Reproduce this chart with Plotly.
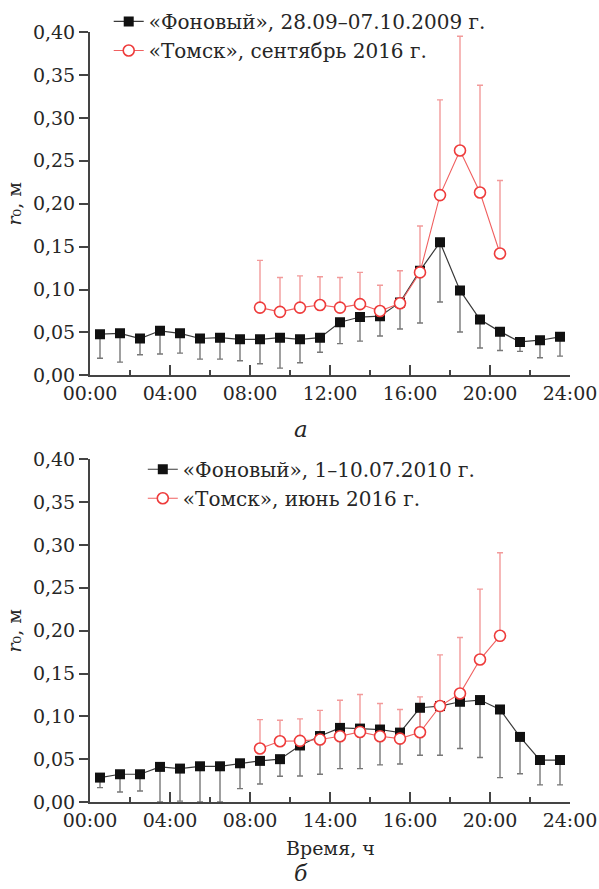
import plotly.graph_objects as go

# ---------------- data ----------------
hours = [h + 0.5 for h in range(24)]
red_hours = [h + 0.5 for h in range(8, 21)]

tick_vals = [0, 4, 8, 12, 16, 20, 24]
tick_text_a = ["00:00", "04:00", "08:00", "12:00", "16:00", "20:00", "24:00"]
tick_text_b = ["00:00", "04:00", "08:00", "14:00", "16:00", "20:00", "24:00"]

name_a_black = "«Фоновый», 28.09–07.10.2009 г."
name_a_red = "«Томск», сентябрь 2016 г."
name_b_black = "«Фоновый», 1–10.07.2010 г."
name_b_red = "«Томск», июнь 2016 г."

# panel a: «Фоновый» (black squares) mean and lower bound of error bar
a_black = [0.048, 0.049, 0.043, 0.052, 0.049, 0.043, 0.044, 0.042, 0.042, 0.044, 0.042, 0.044,
           0.062, 0.068, 0.069, 0.085, 0.122, 0.155, 0.099, 0.065, 0.051, 0.039, 0.041, 0.045]
a_black_low = [0.020, 0.0155, 0.024, 0.025, 0.026, 0.019, 0.019, 0.017, 0.0136, 0.0085, 0.0147, 0.027,
               0.037, 0.040, 0.046, 0.054, 0.061, 0.0855, 0.0505, 0.032, 0.029, 0.028, 0.0206, 0.0225]
# panel a: «Томск» (red circles) mean and upper bound of error bar
a_red = [0.079, 0.074, 0.079, 0.082, 0.079, 0.083, 0.075, 0.084, 0.120, 0.210, 0.262, 0.213, 0.142]
a_red_high = [0.134, 0.114, 0.116, 0.115, 0.114, 0.120, 0.105, 0.122, 0.174, 0.321, 0.395, 0.338, 0.227]

# panel b
b_black = [0.0285, 0.0324, 0.0324, 0.041, 0.039, 0.0417, 0.0417, 0.0452, 0.048, 0.050, 0.066, 0.077,
           0.0865, 0.0857, 0.0846, 0.081, 0.110, 0.112, 0.117, 0.119, 0.108, 0.076, 0.049, 0.049]
b_black_low = [0.0168, 0.0117, 0.0129, 0.0, 0.001, 0.0, 0.0, 0.0156, 0.021, 0.030, 0.0304, 0.0324,
               0.039, 0.039, 0.0433, 0.0444, 0.0546, 0.0546, 0.0624, 0.052, 0.0285, 0.033, 0.020, 0.020]
b_red = [0.0624, 0.0709, 0.0713, 0.0729, 0.0768, 0.0818, 0.0768, 0.074, 0.0814, 0.112, 0.1266, 0.1663, 0.194]
b_red_high = [0.0962, 0.0954, 0.097, 0.107, 0.1188, 0.1255, 0.115, 0.108, 0.1227, 0.1717, 0.192, 0.2485, 0.291]

# ---------------- style ----------------
FONT = "DejaVu Serif"
TXT = "#262626"
AX = "#444444"
BLACK_LINE = "#3a3a3a"
BLACK_ERR = "#777777"
RED = "#ee3b3b"
RED_LINE = "#f06060"
RED_ERR = "#f29a9a"

fig = go.Figure()


def add_panel(xa, ya, legend, bvals, blow, rvals, rhigh, bname, rname):
    minus = [v - l for v, l in zip(bvals, blow)]
    plus = [h - v for v, h in zip(rvals, rhigh)]
    # error bars (drawn first so markers cover the zero-length side)
    fig.add_trace(go.Scatter(
        x=hours, y=bvals, mode="markers", xaxis=xa, yaxis=ya, showlegend=False,
        marker=dict(size=2, opacity=0), hoverinfo="skip",
        error_y=dict(type="data", symmetric=False, array=[0] * len(bvals), arrayminus=minus,
                     color=BLACK_ERR, thickness=1.4, width=3)))
    fig.add_trace(go.Scatter(
        x=red_hours, y=rvals, mode="markers", xaxis=xa, yaxis=ya, showlegend=False,
        marker=dict(size=2, opacity=0), hoverinfo="skip",
        error_y=dict(type="data", symmetric=False, array=plus, arrayminus=[0] * len(rvals),
                     color=RED_ERR, thickness=1.4, width=3)))
    fig.add_trace(go.Scatter(
        x=hours, y=bvals, mode="lines+markers", xaxis=xa, yaxis=ya, name=bname, legend=legend,
        line=dict(color=BLACK_LINE, width=1.2),
        marker=dict(symbol="square", size=10, color="#111111", line=dict(color="#111111", width=0))))
    fig.add_trace(go.Scatter(
        x=red_hours, y=rvals, mode="lines+markers", xaxis=xa, yaxis=ya, name=rname, legend=legend,
        line=dict(color=RED_LINE, width=1.1),
        marker=dict(symbol="circle", size=11, color="white", line=dict(color=RED, width=1.6))))


add_panel("x", "y", "legend", a_black, a_black_low, a_red, a_red_high, name_a_black, name_a_red)
add_panel("x2", "y2", "legend2", b_black, b_black_low, b_red, b_red_high, name_b_black, name_b_red)

ytitle = "<i>r</i>₀, м"
yax = dict(range=[0, 0.40], dtick=0.05, tick0=0, tickformat=".2f", showline=True, linecolor=AX,
           linewidth=2, ticks="outside", ticklen=9, tickwidth=2, tickcolor=AX, showgrid=False,
           zeroline=False, tickfont=dict(family=FONT, size=19, color=TXT),
           title=dict(text=ytitle, font=dict(family=FONT, size=19, color=TXT), standoff=6))
xax = dict(range=[0, 24], tickvals=tick_vals, showline=True, linecolor=AX, linewidth=2,
           ticks="inside", ticklen=10, tickwidth=2, tickcolor=AX, showgrid=False, zeroline=False,
           tickfont=dict(family=FONT, size=19, color=TXT),
           minor=dict(tickvals=[2, 6, 10, 14, 18, 22], ticks="inside", ticklen=5, tickwidth=2,
                      tickcolor=AX, showgrid=False))

fig.update_layout(
    width=599, height=889, paper_bgcolor="white", plot_bgcolor="white",
    margin=dict(l=90, r=29, t=32, b=87, autoexpand=False),
    separators=", ",
    xaxis=dict(xax, domain=[0, 1], anchor="y", ticktext=tick_text_a),
    yaxis=dict(yax, domain=[0.554, 1], anchor="x"),
    xaxis2=dict(xax, domain=[0, 1], anchor="y2", ticktext=tick_text_b),
    yaxis2=dict(yax, domain=[0, 0.445], anchor="x2"),
    legend=dict(x=0.039, y=1.039, xanchor="left", yanchor="top", bgcolor="rgba(0,0,0,0)",
                font=dict(family=FONT, size=20, color=TXT), tracegroupgap=0),
    legend2=dict(x=0.11, y=0.4575, xanchor="left", yanchor="top", bgcolor="rgba(0,0,0,0)",
                 font=dict(family=FONT, size=20, color=TXT), tracegroupgap=0),
    showlegend=True,
)

fig.add_annotation(text="<i>а</i>", xref="paper", yref="paper", x=0.44, y=0.4844,
                   xanchor="center", yanchor="middle",
                   showarrow=False, font=dict(family=FONT, size=23, color=TXT))
fig.add_annotation(text="Время, ч", xref="paper", yref="paper", x=0.5, y=-0.06,
                   xanchor="center", yanchor="middle",
                   showarrow=False, font=dict(family=FONT, size=19, color=TXT))
fig.add_annotation(text="<i>б</i>", xref="paper", yref="paper", x=0.44, y=-0.0935,
                   xanchor="center", yanchor="middle",
                   showarrow=False, font=dict(family=FONT, size=22, color=TXT))

fig.write_html("out.html")
